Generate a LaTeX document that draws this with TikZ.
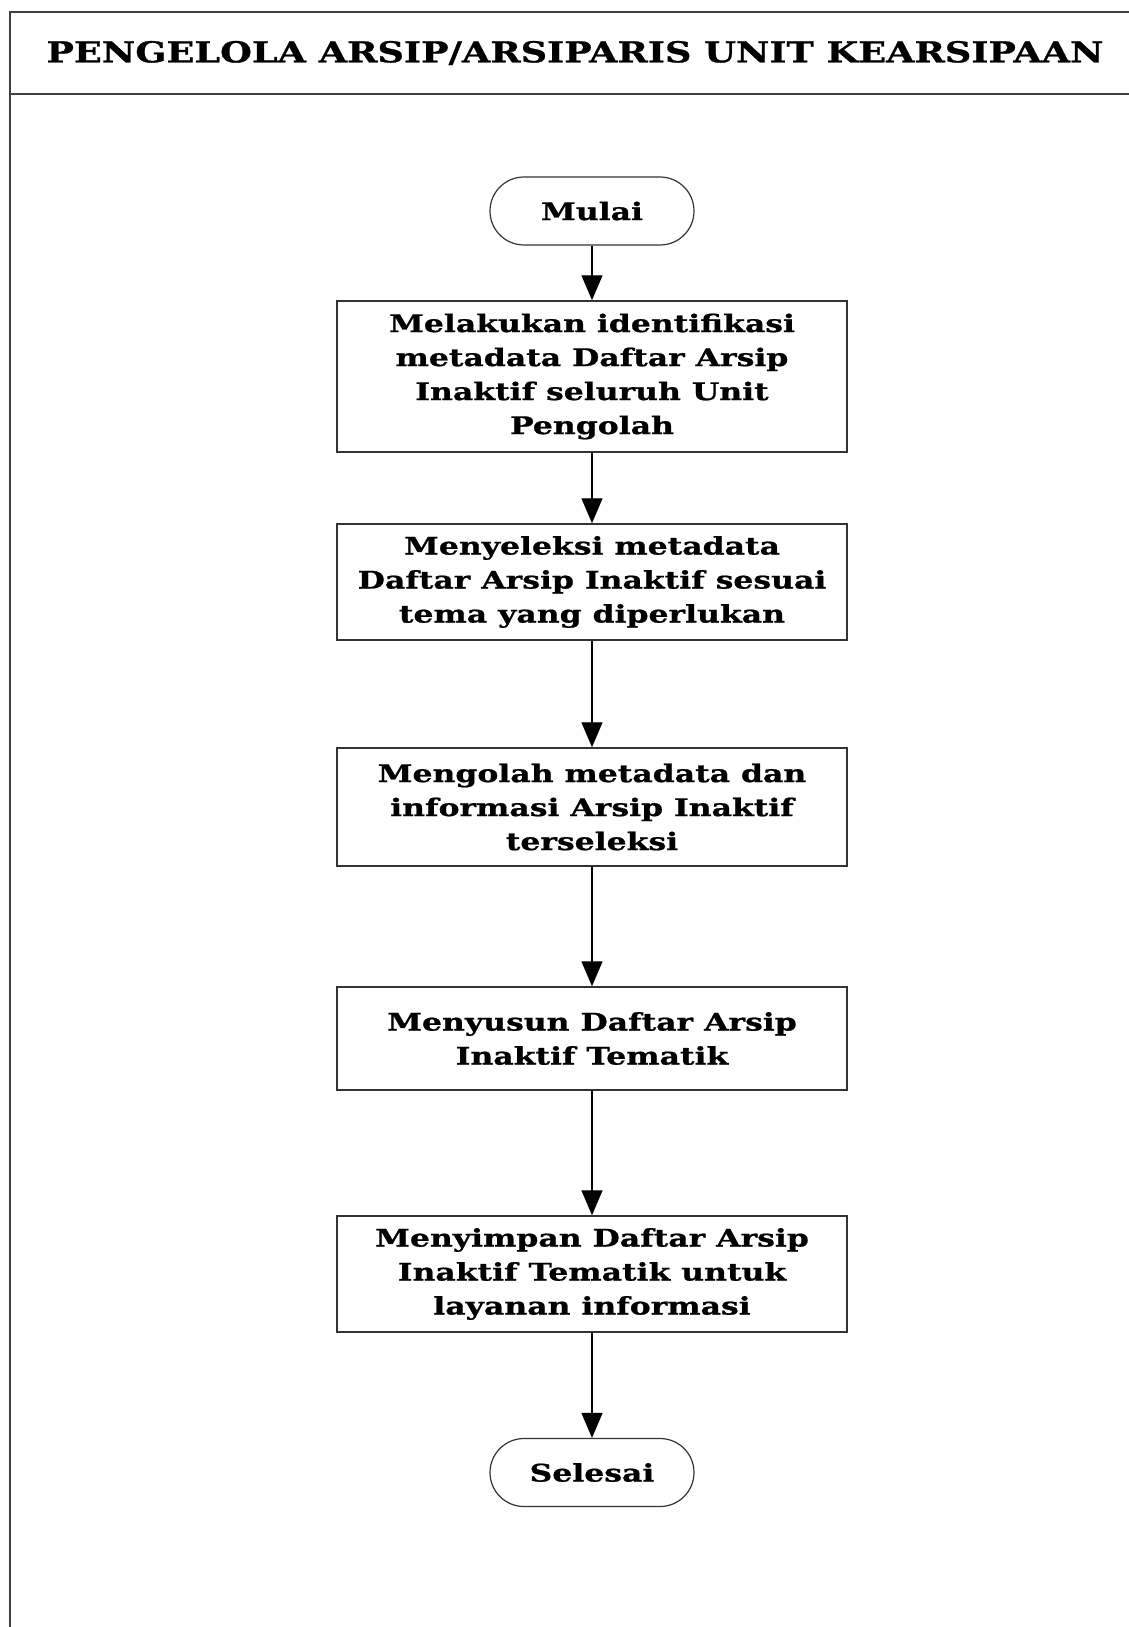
\documentclass[tikz,border=0pt]{standalone}
\usepackage{fontspec}
\setmainfont{DejaVu Serif}
\newfontfamily\stepfont{DejaVu Serif Bold}[FakeStretch=1.3,FakeBold=0.9]
\newfontfamily\titlefont{DejaVu Serif Bold}[FakeStretch=1.27,FakeBold=0.9]
\usetikzlibrary{arrows.meta}
\begin{document}
\begin{tikzpicture}[x=0.5pt,y=-0.5pt,
  frame/.style={line width=1pt,draw=black!75},
  stepbox/.style={draw=black!80,line width=0.75pt,rectangle,minimum width=255pt,inner sep=0pt,align=center,
    font=\stepfont\fontsize{12.1}{17}\selectfont},
  terminal/.style={draw=black!80,line width=0.6pt,rectangle,rounded corners=17pt,minimum width=102pt,minimum height=34pt,inner sep=0pt,
    font=\stepfont\fontsize{12.1}{17}\selectfont},
  flow/.style={line width=0.7pt,-{Triangle[length=12.5pt,width=10.5pt]}}]
\useasboundingbox (0,0) rectangle (1129,1627);
% page frame and header band
\draw[frame] (1129,12.5) -- (10,12.5) -- (10,1627);
\draw[frame] (10,94) -- (1129,94);
\node[font=\titlefont\fontsize{14.4}{17}\selectfont] (title) at (575,53) {PENGELOLA ARSIP/ARSIPARIS UNIT KEARSIPAAN};
% process steps
\node[terminal] (start) at (592,211) {Mulai};
\node[stepbox,minimum height=75.5pt] (s1) at (592,376.5) {Melakukan identifikasi\\metadata Daftar Arsip\\Inaktif seluruh Unit\\Pengolah};
\node[stepbox,minimum height=58pt] (s2) at (592,582) {Menyeleksi metadata\\Daftar Arsip Inaktif sesuai\\tema yang diperlukan};
\node[stepbox,minimum height=59pt] (s3) at (592,807) {Mengolah metadata dan\\informasi Arsip Inaktif\\terseleksi};
\node[stepbox,minimum height=51.5pt] (s4) at (592,1038.5) {Menyusun Daftar Arsip\\Inaktif Tematik};
\node[stepbox,minimum height=58pt] (s5) at (592,1274) {Menyimpan Daftar Arsip\\Inaktif Tematik untuk\\layanan informasi};
\node[terminal] (stop) at (592,1472.5) {Selesai};
% connectors
\draw[flow] (start) -- (s1);
\draw[flow] (s1) -- (s2);
\draw[flow] (s2) -- (s3);
\draw[flow] (s3) -- (s4);
\draw[flow] (s4) -- (s5);
\draw[flow] (s5) -- (stop);
\end{tikzpicture}
\end{document}
